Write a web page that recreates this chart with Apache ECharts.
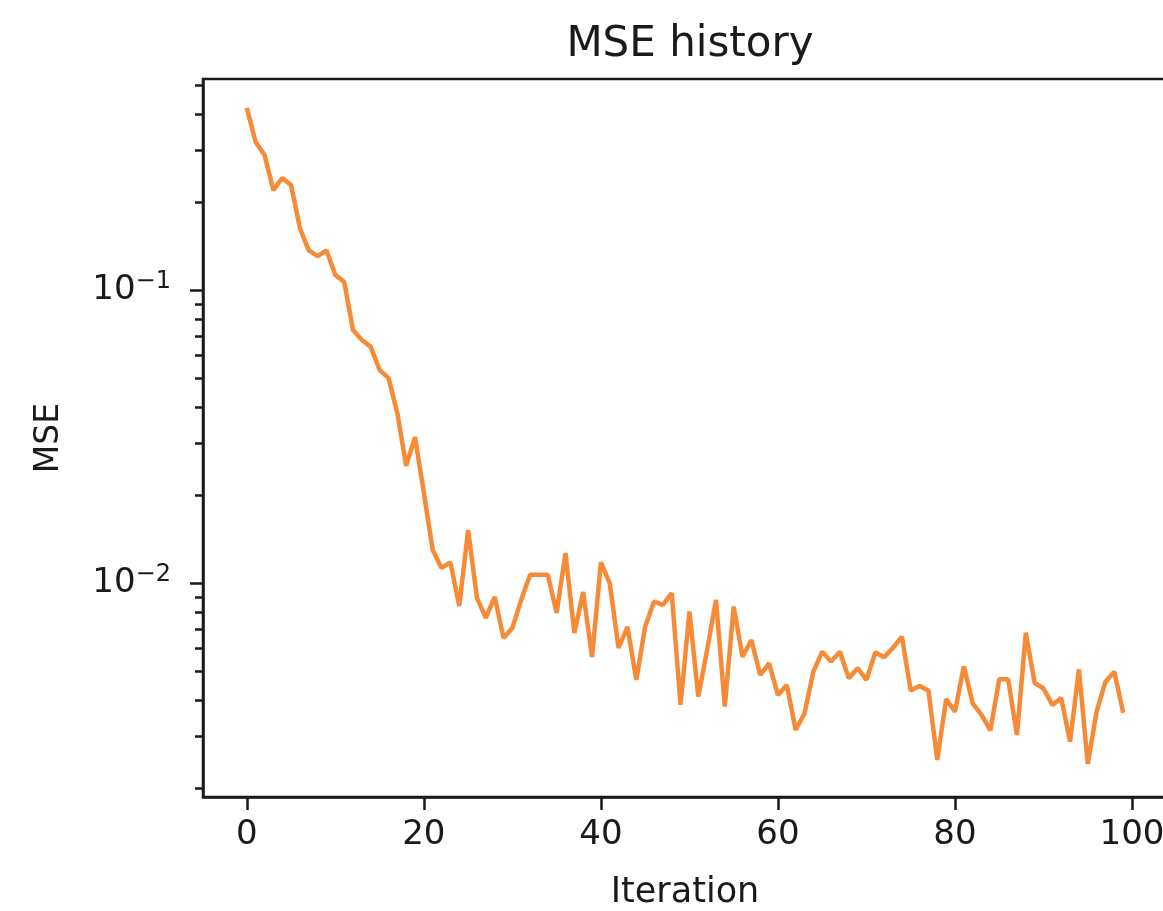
<!DOCTYPE html>
<html>
<head>
<meta charset="utf-8">
<style>
  html, body { margin: 0; padding: 0; background: #fff; }
  #chart { width: 1163px; height: 911px; }
</style>
<script src="https://cdn.jsdelivr.net/npm/echarts@6/dist/echarts.min.js"></script>
</head>
<body>
<div id="chart"></div>
<script>
// MSE per iteration (log scale)
var mse = [
  0.420, 0.321, 0.290, 0.220, 0.242, 0.229, 0.163, 0.137, 0.131, 0.137,
  0.113, 0.107, 0.0733, 0.0678, 0.0642, 0.0535, 0.0503, 0.0382, 0.0252, 0.0316,
  0.0204, 0.0130, 0.0113, 0.0118, 0.00838, 0.0152, 0.00893, 0.00763, 0.00900, 0.00652,
  0.00705, 0.00879, 0.0107, 0.0107, 0.0107, 0.00793, 0.0127, 0.00678, 0.00935, 0.00561,
  0.0118, 0.0100, 0.00603, 0.00711, 0.00469, 0.00712, 0.00867, 0.00845, 0.00927, 0.00385,
  0.00802, 0.00411, 0.00593, 0.00879, 0.00380, 0.00834, 0.00562, 0.00641, 0.00487, 0.00534,
  0.00416, 0.00450, 0.00316, 0.00360, 0.00500, 0.00585, 0.00541, 0.00585, 0.00475, 0.00514,
  0.00469, 0.00581, 0.00560, 0.00603, 0.00658, 0.00431, 0.00447, 0.00431, 0.00250, 0.00403,
  0.00365, 0.00522, 0.00390, 0.00356, 0.00315, 0.00471, 0.00471, 0.00304, 0.00679, 0.00458,
  0.00438, 0.00385, 0.00406, 0.00288, 0.00509, 0.00242, 0.00365, 0.00462, 0.00500, 0.00362
];
var xTicks = [0, 20, 40, 60, 80, 100];
var yMajor = [0.01, 0.1];
var yMinor = [0.002, 0.003, 0.004, 0.005, 0.006, 0.007, 0.008, 0.009,
              0.02, 0.03, 0.04, 0.05, 0.06, 0.07, 0.08, 0.09,
              0.2, 0.3, 0.4, 0.5];
var sup = { 0.01: '−2', 0.1: '−1' };

var font = 'DejaVu Sans';
var ink = '#1a1a1a';

var chart = echarts.init(document.getElementById('chart'));

var option = {
  animation: false,
  title: {
    text: 'MSE history',
    left: 685,
    top: 19,
    textAlign: 'center',
    textStyle: { fontFamily: font, fontSize: 42, fontWeight: 'normal', color: ink }
  },
  grid: {
    left: 203, top: 79, width: 964, height: 718,
    outerBoundsMode: 'none',
    containLabel: false,
    show: true, borderColor: ink, borderWidth: 2.5, backgroundColor: '#fff'
  },
  xAxis: {
    type: 'value',
    min: -4.95,
    max: 103.95,
    name: 'Iteration',
    nameLocation: 'middle',
    nameGap: 78,
    nameTextStyle: { fontFamily: font, fontSize: 35, color: ink },
    axisLine: { onZero: false, lineStyle: { color: ink, width: 2.5 } },
    axisTick: { length: 13, lineStyle: { color: ink, width: 2.5 }, customValues: xTicks },
    axisLabel: { customValues: xTicks, margin: 21, fontFamily: font, fontSize: 34, color: ink },
    splitLine: { show: false }
  },
  yAxis: [
    {
      type: 'log',
      logBase: 10,
      min: 0.001867,
      max: 0.527,
      name: 'MSE',
      nameLocation: 'middle',
      nameGap: 137,
      nameTextStyle: { fontFamily: font, fontSize: 33, color: ink },
      axisLine: { show: true, onZero: false, lineStyle: { color: ink, width: 2.5 } },
      axisTick: { length: 13, lineStyle: { color: ink, width: 2.5 }, customValues: yMajor },
      axisLabel: {
        customValues: yMajor,
        margin: 32,
        formatter: function (v) {
          var k = v < 0.05 ? 0.01 : 0.1;
          return '{b|10}{s|' + sup[k] + '}';
        },
        rich: {
          b: { fontFamily: font, fontSize: 34, color: ink },
          s: { fontFamily: font, fontSize: 24, color: ink, padding: [0, 0, 18, 0] }
        }
      },
      splitLine: { show: false },
      minorTick: { show: false }
    },
    {
      // minor ticks only
      type: 'log',
      logBase: 10,
      min: 0.001867,
      max: 0.527,
      position: 'left',
      axisLine: { show: false, onZero: false },
      axisTick: { length: 8, lineStyle: { color: ink, width: 2.5 }, customValues: yMinor },
      axisLabel: { show: false },
      splitLine: { show: false }
    }
  ],
  series: [
    {
      type: 'line',
      yAxisIndex: 0,
      data: mse.map(function (v, i) { return [i, v]; }),
      showSymbol: false,
      lineStyle: { color: '#f78a36', width: 4.5 },
      clip: true
    }
  ]
};

chart.setOption(option);
</script>
</body>
</html>
